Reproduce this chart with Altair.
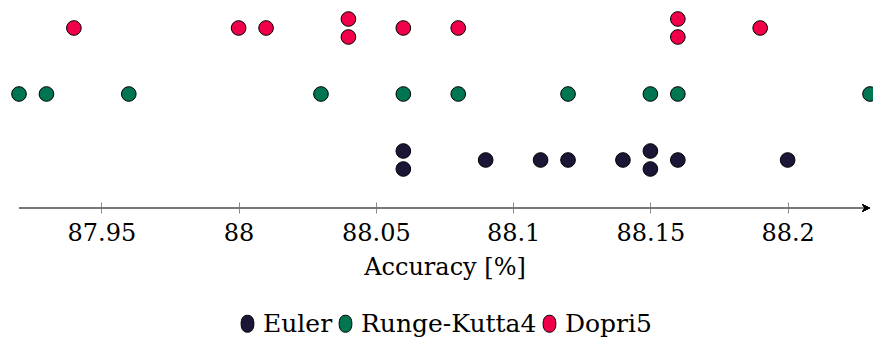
import altair as alt
import pandas as pd

# Accuracy of ten training runs per ODE solver
methods = ["Euler", "Runge-Kutta4", "Dopri5"]
colors = ["#1b1636", "#007552", "#ef0049"]

euler = [88.06, 88.06, 88.09, 88.11, 88.12, 88.14, 88.15, 88.15, 88.16, 88.20]
rk4 = [87.92, 87.93, 87.96, 88.03, 88.06, 88.08, 88.12, 88.15, 88.16, 88.23]
dopri5 = [87.94, 88.00, 88.01, 88.04, 88.04, 88.06, 88.08, 88.16, 88.16, 88.19]

tick_values = [87.95, 88.0, 88.05, 88.1, 88.15, 88.2]
x_domain = [87.92, 88.23]

FONT = "DejaVu Serif"
W, H = 851, 202
ROW_GAP = 66   # vertical distance between solver rows (px)
STACK = 9      # half distance between repeated runs with equal accuracy (px)

# one row per solver, repeated values stacked symmetrically around the row
records = []
for level, (name, vals) in enumerate(zip(methods, [euler, rk4, dopri5])):
    counts = pd.Series(vals).value_counts()
    seen = {}
    for v in vals:
        n = counts[v]
        k = seen.get(v, 0)
        seen[v] = k + 1
        shift = (k - (n - 1) / 2) * 2 * STACK
        records.append({"method": name, "acc": v, "level": level + shift / ROW_GAP})
df = pd.DataFrame(records)

y_scale = alt.Scale(domain=[-42 / ROW_GAP, 2 + 28 / ROW_GAP], nice=False, zero=False)

# vertical ellipse used as legend marker
ellipse = "M0,-1 C0.55,-1 0.75,-0.55 0.75,0 C0.75,0.55 0.55,1 0,1 C-0.55,1 -0.75,0.55 -0.75,0 C-0.75,-0.55 -0.55,-1 0,-1 Z"

points = alt.Chart(df).mark_circle(
    size=215, opacity=1, stroke="black", strokeWidth=1
).encode(
    x=alt.X(
        "acc:Q",
        scale=alt.Scale(domain=x_domain, nice=False, zero=False),
        axis=alt.Axis(
            values=tick_values, format=".2~f", domain=False, grid=False,
            tickSize=11, tickColor="#8a8a8a", tickWidth=1,
            labelFont=FONT, labelFontSize=24, labelColor="black", labelPadding=8,
            title="Accuracy [%]", titleFont=FONT, titleFontSize=24,
            titleFontWeight="normal", titleColor="black", titlePadding=10,
        ),
    ),
    y=alt.Y("level:Q", scale=y_scale, axis=None),
    color=alt.Color(
        "method:N",
        scale=alt.Scale(domain=methods, range=colors),
        legend=alt.Legend(
            title=None, orient="none", legendX=216, legendY=311,
            direction="horizontal", symbolType=ellipse, symbolSize=290,
            symbolStrokeColor="black", symbolStrokeWidth=1, symbolOpacity=1,
            labelFont=FONT, labelFontSize=25, labelColor="black", labelLimit=400,
            labelOffset=3, columnPadding=0,
        ),
    ),
)

# horizontal axis line with an arrow head at its right end
axis_line = alt.Chart(df).mark_rule(color="#777777", strokeWidth=1.6).encode(
    x=alt.value(0), x2=alt.value(W - 4), y=alt.value(H + 6)
)
arrow = alt.Chart(df).mark_point(
    shape="M1,0 L-1,-1 L-0.4,0 L-1,1 Z", filled=True, color="black", opacity=1, size=49
).encode(x=alt.value(W - 4), y=alt.value(H + 6))

chart = alt.layer(axis_line, points, arrow).properties(
    width=W, height=H,
    padding={"left": 19, "top": 0, "right": 3, "bottom": 135},
    autosize=alt.AutoSizeParams(type="none"),
    background="white",
).configure_view(strokeWidth=0, stroke="transparent")

chart.save("out.html", embed_options={"renderer": "svg", "actions": False})
